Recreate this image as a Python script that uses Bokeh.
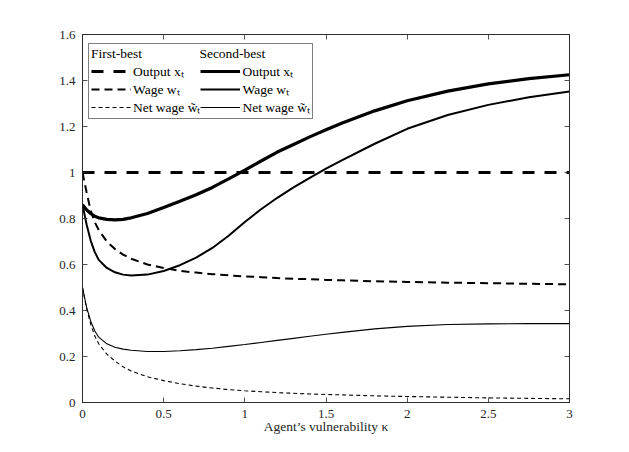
from bokeh.plotting import figure
from bokeh.models import (LinearAxis, FixedTicker, CustomJSTickFormatter, Legend,
                          LegendItem, Range1d)
from bokeh.embed import file_html
from bokeh.resources import INLINE

kappa = [0, 0.025, 0.05, 0.075, 0.1, 0.15, 0.2, 0.25, 0.3, 0.4, 0.5, 0.6, 0.7,
         0.8, 0.9, 1.0, 1.1, 1.2, 1.3, 1.4, 1.5, 1.6, 1.8, 2.0, 2.25, 2.5, 2.75, 3.0]
fb_output = [1.0, 1.0, 1.0, 1.0, 1.0, 1.0, 1.0, 1.0, 1.0, 1.0, 1.0, 1.0, 1.0,
             1.0, 1.0, 1.0, 1.0, 1.0, 1.0, 1.0, 1.0, 1.0, 1.0, 1.0, 1.0, 1.0, 1.0, 1.0]
fb_wage = [1.0, 0.915, 0.835, 0.785, 0.75, 0.70, 0.667, 0.643, 0.625, 0.60, 0.585,
           0.572, 0.565, 0.558, 0.553, 0.548, 0.545, 0.541, 0.538, 0.536, 0.533,
           0.531, 0.527, 0.524, 0.521, 0.519, 0.516, 0.514]
fb_net = [0.5, 0.41, 0.342, 0.29, 0.255, 0.21, 0.18, 0.155, 0.137, 0.112, 0.095,
          0.082, 0.071, 0.063, 0.056, 0.051, 0.047, 0.043, 0.04, 0.037, 0.035,
          0.033, 0.029, 0.026, 0.023, 0.02, 0.018, 0.016]
sb_output = [0.86, 0.838, 0.822, 0.81, 0.803, 0.796, 0.794, 0.796, 0.803, 0.822,
             0.848, 0.875, 0.903, 0.935, 0.972, 1.01, 1.05, 1.089, 1.122, 1.155,
             1.186, 1.215, 1.268, 1.312, 1.354, 1.385, 1.408, 1.425]
sb_wage = [0.86, 0.775, 0.705, 0.655, 0.62, 0.585, 0.566, 0.556, 0.552, 0.556,
           0.572, 0.597, 0.63, 0.672, 0.725, 0.785, 0.84, 0.89, 0.935, 0.977,
           1.017, 1.054, 1.125, 1.19, 1.25, 1.294, 1.327, 1.352]
sb_net = [0.5, 0.415, 0.355, 0.312, 0.284, 0.255, 0.24, 0.232, 0.227, 0.222, 0.222,
          0.225, 0.23, 0.236, 0.244, 0.252, 0.261, 0.27, 0.279, 0.288, 0.297,
          0.305, 0.32, 0.331, 0.339, 0.342, 0.343, 0.343]

x_ticks = [0, 0.5, 1, 1.5, 2, 2.5, 3]
y_ticks = [0, 0.2, 0.4, 0.6, 0.8, 1, 1.2, 1.4, 1.6]
labels = ["Output xₜ", "Wage wₜ", "Net wage w̃ₜ"]
headers = ["First-best", "Second-best"]
x_label = "Agent’s vulnerability κ"

FONT = "Liberation Serif"
AX = "#262626"

p = figure(frame_width=487, frame_height=368, output_backend="svg",
           toolbar_location=None, x_range=Range1d(0, 3), y_range=Range1d(0, 1.6),
           min_border_left=82, min_border_right=52, min_border_top=34,
           min_border_bottom=42, x_axis_label=x_label)
p.grid.visible = False
p.outline_line_color = AX
p.outline_line_width = 0.8
p.background_fill_color = "white"
p.border_fill_color = "white"

fmt = CustomJSTickFormatter(code="return String(Number(tick.toFixed(2)));")
blank = CustomJSTickFormatter(code="return '';")

p.add_layout(LinearAxis(), "above")
p.add_layout(LinearAxis(), "right")

for ax in p.xaxis:
    ax.ticker = FixedTicker(ticks=x_ticks)
for ax in p.yaxis:
    ax.ticker = FixedTicker(ticks=y_ticks)
for ax in p.axis:
    ax.axis_line_color = AX
    ax.axis_line_width = 0.8
    ax.major_tick_line_color = AX
    ax.major_tick_line_width = 0.8
    ax.major_tick_in = 5
    ax.major_tick_out = 0
    ax.minor_tick_line_color = None
    ax.major_label_text_font = FONT
    ax.major_label_text_font_size = "13px"
    ax.major_label_text_color = AX
    ax.axis_label_text_font = FONT
    ax.axis_label_text_font_size = "13.5px"
    ax.axis_label_text_font_style = "normal"
    ax.axis_label_text_color = AX
p.below[0].formatter = fmt
p.left[0].formatter = fmt
p.below[0].major_label_standoff = 7
p.below[0].axis_label_standoff = -2
p.left[0].major_label_standoff = 7
p.above[0].formatter = blank
p.right[0].formatter = blank
p.above[0].major_label_standoff = 0
p.right[0].major_label_standoff = 0

r_fo = p.line(kappa, fb_output, line_color="black", line_width=3, line_dash="12 10")
r_fw = p.line(kappa, fb_wage, line_color="black", line_width=2, line_dash="8 5")
r_fn = p.line(kappa, fb_net, line_color="black", line_width=1.1, line_dash="4 3")
r_so = p.line(kappa, sb_output, line_color="black", line_width=3.2)
r_sw = p.line(kappa, sb_wage, line_color="black", line_width=2)
r_sn = p.line(kappa, sb_net, line_color="black", line_width=1.1)

title = headers[0] + "\u00a0" * 17 + headers[1]
legend = Legend(items=[LegendItem(label=labels[0], renderers=[r_fo]),
                       LegendItem(label=labels[1], renderers=[r_fw]),
                       LegendItem(label=labels[2], renderers=[r_fn]),
                       LegendItem(label=labels[0], renderers=[r_so]),
                       LegendItem(label=labels[1], renderers=[r_sw]),
                       LegendItem(label=labels[2], renderers=[r_sn])],
                nrows=3, orientation="vertical", location=(6, 283),
                title=title)
legend.title_text_font = FONT
legend.title_text_font_size = "13.5px"
legend.title_text_font_style = "normal"
legend.title_text_color = "black"
legend.title_standoff = 0
legend.label_text_font = FONT
legend.label_text_font_size = "13.5px"
legend.label_text_color = "black"
legend.label_height = 14
legend.glyph_height = 14
legend.glyph_width = 40
legend.label_standoff = 2
legend.spacing = 0
legend.padding = 2
legend.margin = 0
legend.border_line_color = "black"
legend.border_line_width = 1
legend.background_fill_alpha = 1
p.add_layout(legend, "center")

open("out.html", "w").write(file_html(p, INLINE))
